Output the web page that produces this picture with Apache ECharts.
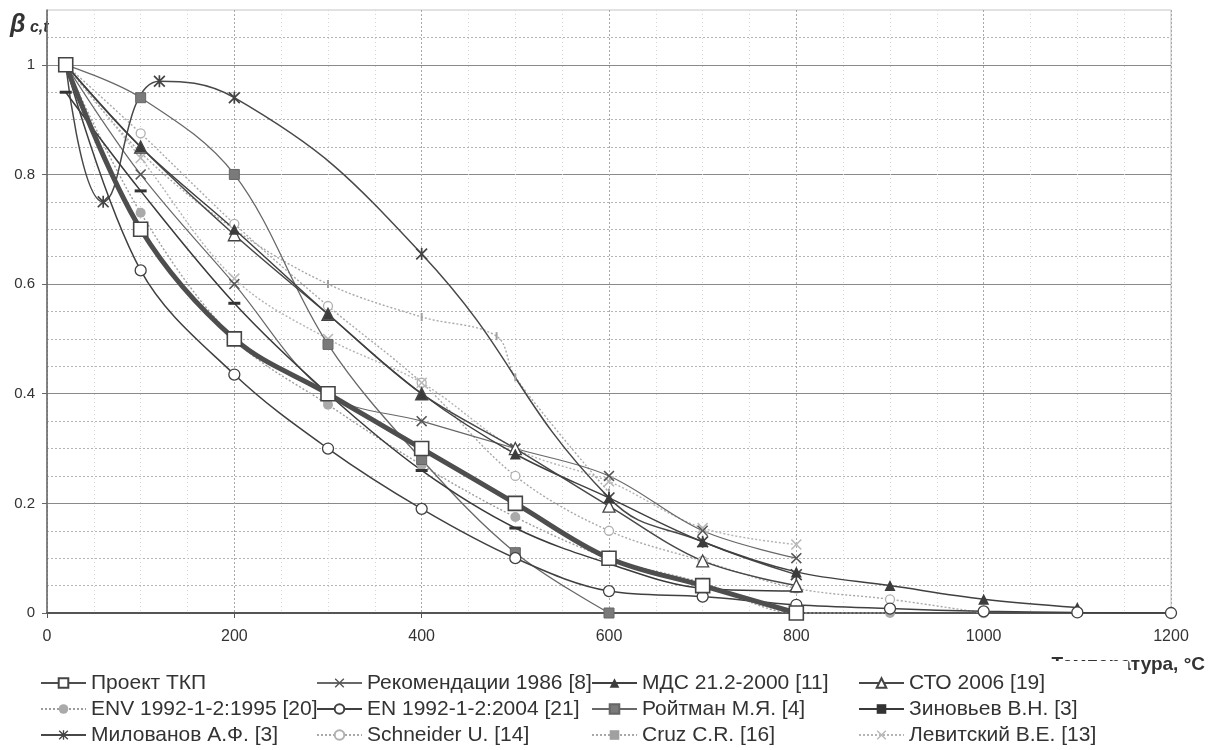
<!DOCTYPE html>
<html>
<head>
<meta charset="utf-8">
<script src="https://cdn.jsdelivr.net/npm/echarts@6/dist/echarts.min.js"></script>
<style>
html,body{margin:0;padding:0;background:#fff}
#chart{width:1209px;height:750px}
</style>
</head>
<body>
<div id="chart"></div>
<script>
// Relative concrete strength β_c,t versus temperature, several sources
const xTicks = [0, 200, 400, 600, 800, 1000, 1200];
const yTicks = [0, 0.2, 0.4, 0.6, 0.8, 1];

const tkpT   = [20, 100, 200, 300, 400, 500, 600, 700, 800];
const tkpV   = [1, 0.70, 0.50, 0.40, 0.30, 0.20, 0.10, 0.05, 0];

const rek86T = [20, 100, 200, 300, 400, 500, 600, 700, 800];
const rek86V = [1, 0.80, 0.60, 0.40, 0.35, 0.30, 0.25, 0.15, 0.10];

const mdsT   = [20, 100, 200, 300, 400, 500, 600, 700, 800, 900, 1000, 1100];
const mdsV   = [1, 0.85, 0.70, 0.545, 0.40, 0.29, 0.21, 0.13, 0.075, 0.05, 0.025, 0.01];

const stoT   = [20, 100, 200, 300, 400, 500, 600, 700, 800];
const stoV   = [1, 0.85, 0.69, 0.545, 0.40, 0.30, 0.195, 0.095, 0.05];

const envT   = [20, 100, 200, 300, 400, 500, 600, 700, 800, 900];
const envV   = [1, 0.73, 0.50, 0.38, 0.27, 0.175, 0.10, 0.055, 0, 0];

const en04T  = [20, 100, 200, 300, 400, 500, 600, 700, 800, 900, 1000, 1100, 1200];
const en04V  = [1, 0.625, 0.435, 0.30, 0.19, 0.10, 0.04, 0.03, 0.015, 0.008, 0.003, 0.001, 0];

const roiT   = [20, 100, 200, 300, 400, 500, 600];
const roiV   = [1, 0.94, 0.80, 0.49, 0.28, 0.11, 0];

const zinT   = [20, 100, 200, 300, 400, 500, 600, 700, 800];
const zinV   = [0.95, 0.77, 0.565, 0.40, 0.26, 0.155, 0.09, 0.045, 0.04];

const milT   = [20, 60, 120, 200, 400, 600, 700, 800];
const milV   = [1, 0.75, 0.97, 0.94, 0.655, 0.21, 0.13, 0.07];

const schT   = [20, 100, 200, 300, 400, 500, 600, 700, 800, 900, 1000];
const schV   = [1, 0.875, 0.71, 0.56, 0.42, 0.25, 0.15, 0.095, 0.045, 0.025, 0];

const cruzT  = [20, 100, 200, 300, 400, 480, 500, 600];
const cruzV  = [1, 0.84, 0.70, 0.60, 0.54, 0.505, 0.43, 0.22];

const levT   = [20, 100, 200, 300, 400, 500, 600, 700, 800];
const levV   = [1, 0.83, 0.61, 0.50, 0.42, 0.30, 0.24, 0.155, 0.125];

const FONT = '"Liberation Sans", Arial, sans-serif';
const DARK = '#484848';
const MID = '#686868';
const LIGHT = '#a8a8a8';

const crossSym = 'path://M0,1L1,0L5,4L9,0L10,1L6,5L10,9L9,10L5,6L1,10L0,9L4,5Z';
const starSym = 'path://M0,1L1,0L5,4L9,0L10,1L6,5L10,9L9,10L5,6L1,10L0,9L4,5Z M4.3,0L5.7,0L5.7,10L4.3,10Z';

function pairs(t, v) { return t.map((x, i) => [x, v[i]]); }

function mk(name, t, v, o) {
  return {
    name: name,
    type: 'line',
    data: pairs(t, v),
    smooth: o.smooth === undefined ? 0.35 : o.smooth,
    symbol: o.symbol,
    symbolSize: o.size,
    showAllSymbol: true,
    z: o.z || 2,
    lineStyle: { color: o.line, width: o.width || 1.4, type: o.type || 'solid' },
    itemStyle: { color: o.fill, borderColor: o.border || o.fill, borderWidth: o.bw || 0, opacity: 1 },
    emphasis: { disabled: true }
  };
}

const series = [
  mk('Schneider U. [14]', schT, schV, { symbol: 'circle', size: 9, line: LIGHT, type: [2, 2], fill: '#fff', border: '#b0b0b0', bw: 1.3 }),
  mk('Cruz C.R. [16]', cruzT, cruzV, { symbol: 'rect', size: [2, 8], line: LIGHT, type: [2, 2], fill: '#a0a0a0' }),
  mk('Левитский В.Е. [13]', levT, levV, { symbol: crossSym, size: 11, line: '#b4b4b4', type: [2, 2], fill: '#b8b8b8' }),
  mk('ENV 1992-1-2:1995 [20]', envT, envV, { symbol: 'circle', size: 10, line: '#9c9c9c', type: [2, 2], fill: '#aaaaaa' }),
  mk('Рекомендации 1986 [8]', rek86T, rek86V, { symbol: crossSym, size: 11, line: MID, width: 1.2, fill: '#555' }),
  mk('Ройтман М.Я. [4]', roiT, roiV, { symbol: 'rect', size: 10, line: MID, width: 1.3, fill: '#7a7a7a', border: '#666', bw: 1 }),
  mk('Милованов А.Ф. [3]', milT, milV, { symbol: starSym, size: 12, line: DARK, width: 1.5, fill: '#444', smooth: 0.45 }),
  mk('Зиновьев В.Н. [3]', zinT, zinV, { symbol: 'rect', size: [12, 3], line: '#3a3a3a', width: 1.5, fill: '#333' }),
  mk('СТО 2006 [19]', stoT, stoV, { symbol: 'triangle', size: 12, line: DARK, width: 1.5, fill: '#fff', border: '#444', bw: 1.3 }),
  mk('МДС 21.2-2000 [11]', mdsT, mdsV, { symbol: 'triangle', size: 11, line: '#404040', width: 1.5, fill: '#3c3c3c' }),
  mk('EN 1992-1-2:2004 [21]', en04T, en04V, { symbol: 'circle', size: 11, line: '#404040', width: 1.5, fill: '#fff', border: '#404040', bw: 1.3 }),
  mk('Проект ТКП', tkpT, tkpV, { symbol: 'rect', size: 14, line: '#4e4e4e', width: 5, fill: '#fff', border: '#444', bw: 1.6, z: 5 })
];

const legendCols = [
  ['Проект ТКП', 'ENV 1992-1-2:1995 [20]', 'Милованов А.Ф. [3]'],
  ['Рекомендации 1986 [8]', 'EN 1992-1-2:2004 [21]', 'Schneider U. [14]'],
  ['МДС 21.2-2000 [11]', 'Ройтман М.Я. [4]', 'Cruz C.R. [16]'],
  ['СТО 2006 [19]', 'Зиновьев В.Н. [3]', 'Левитский В.Е. [13]']
];
const legendLeft = [40, 316, 591, 858];
const legendPadRight = [0, 0, 0, 32];

const legends = legendCols.map((names, i) => ({
  orient: 'vertical',
  left: legendLeft[i],
  top: 661,
  height: 88,
  padding: [11, legendPadRight[i], 0, 0],
  backgroundColor: '#fff',
  data: names,
  itemWidth: 45,
  itemHeight: 12,
  itemGap: 4,
  selectedMode: false,
  textStyle: { fontFamily: FONT, fontSize: 21, color: '#333', lineHeight: 22 }
}));

const chart = echarts.init(document.getElementById('chart'), null, { renderer: 'canvas' });

chart.setOption({
  animation: false,
  backgroundColor: '#fff',
  grid: { left: 47, right: 38, top: 10, bottom: 137, show: true, borderColor: '#c4c4c4', borderWidth: 1 },
  xAxis: {
    type: 'value',
    min: xTicks[0],
    max: xTicks[xTicks.length - 1],
    interval: 200,
    axisLine: { show: true, onZero: false, lineStyle: { color: '#555', width: 2 } },
    axisTick: { show: true, length: 5, lineStyle: { color: '#555' } },
    axisLabel: { fontFamily: FONT, fontSize: 16, color: '#333', margin: 16, formatter: v => String(v) },
    splitLine: { show: true, lineStyle: { color: '#a8a8a8', type: [2, 2], width: 1 } },
    minorTick: { show: false, splitNumber: 4 },
    minorSplitLine: { show: true, lineStyle: { color: '#d6d6d6', type: [1, 3], width: 1 } }
  },
  yAxis: {
    type: 'value',
    min: yTicks[0],
    max: 1.1,
    interval: 0.2,
    axisLine: { show: true, onZero: false, lineStyle: { color: '#666', width: 1.5 } },
    axisTick: { show: true, length: 5, lineStyle: { color: '#666' } },
    axisLabel: { fontFamily: FONT, fontSize: 15, color: '#333', margin: 12, showMaxLabel: false,
      formatter: v => (yTicks.some(t => Math.abs(t - v) < 1e-9) ? String(+v.toFixed(1)) : '') },
    splitLine: { show: true, showMaxLine: false, lineStyle: { color: '#8a8a8a', width: 1 } },
    minorTick: { show: false, splitNumber: 4 },
    minorSplitLine: { show: true, lineStyle: { color: '#b4b4b4', type: [2, 2], width: 1 } }
  },
  legend: legends,
  graphic: [
    {
      type: 'text',
      right: 4,
      top: 655,
      z: 0,
      style: { text: 'Температура, °С', font: 'bold 19px ' + FONT, fill: '#333' }
    },
    {
      type: 'text',
      left: 10,
      top: 13,
      style: {
        text: '{b|β}{s| c,t}',
        rich: {
          b: { font: 'italic bold 25px ' + FONT, fill: '#333' },
          s: { font: 'italic bold 16px ' + FONT, fill: '#333', padding: [5, 0, 0, 0] }
        }
      }
    }
  ],
  series: series
});
</script>
</body>
</html>
